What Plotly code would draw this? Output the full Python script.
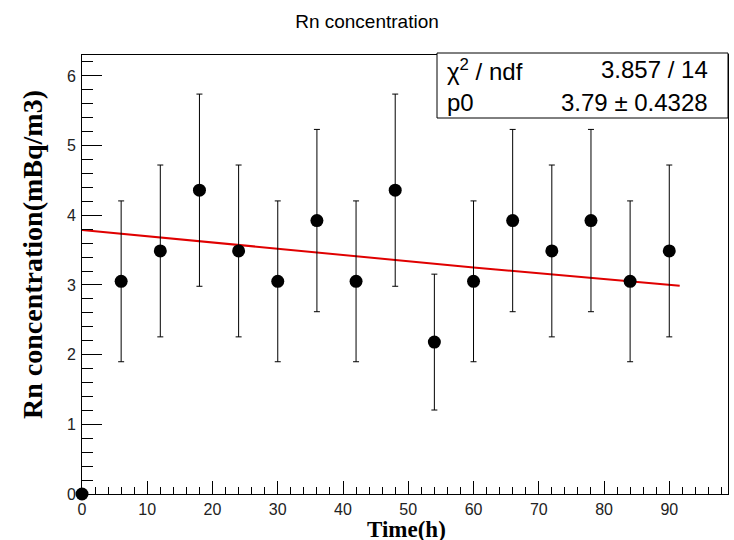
import plotly.graph_objects as go

# ---- data ----
time_h = [0, 6, 12, 18, 24, 30, 36, 42, 48, 54, 60, 66, 72, 78, 84, 90]
rn_conc = [0.0, 3.052, 3.488, 4.36, 3.488, 3.052, 3.924, 3.052, 4.36, 2.18,
           3.052, 3.924, 3.488, 3.924, 3.052, 3.488]
rn_err = [0.0, 1.154, 1.233, 1.379, 1.233, 1.154, 1.308, 1.154, 1.379, 0.975,
          1.154, 1.308, 1.233, 1.308, 1.154, 1.233]
fit_x = [0, 30, 60, 91.6]
fit_y = [3.79, 3.52, 3.25, 2.99]

title_text = "Rn concentration"
x_title = "Time(h)"
y_title = "Rn concentration(mBq/m3)"
stat_labels = ["χ<sup>2</sup> / ndf", "p0"]
stat_values = ["3.857 / 14", "3.79 \u00b1 0.4328"]

# ---- layout geometry (pixels) ----
W, H = 734, 540
L, R, T, B = 82, 728, 55, 494
pw, ph = R - L, B - T

def px(xp):
    return (xp - L) / pw

def py(yp):
    return (B - yp) / ph

fig = go.Figure()

fig.add_trace(go.Scatter(
    x=fit_x, y=fit_y, mode="lines",
    line=dict(color="#e00000", width=2),
    hoverinfo="skip", showlegend=False,
))

fig.add_trace(go.Scatter(
    x=time_h, y=rn_conc, mode="markers",
    marker=dict(color="black", size=13),
    error_y=dict(type="data", array=rn_err, visible=True,
                 color="black", thickness=1, width=3),
    cliponaxis=False, showlegend=False,
))

sans = "Liberation Sans, Arial, Helvetica, sans-serif"
serif = "Liberation Serif, Times New Roman, serif"

fig.update_layout(
    width=W, height=H,
    margin=dict(l=L, r=W - R, t=T, b=H - B),
    paper_bgcolor="white", plot_bgcolor="white",
    title=dict(text=title_text, x=367 / W, xanchor="center",
               y=1 - 21 / H, yanchor="middle",
               font=dict(family=sans, size=19, color="black")),
    xaxis=dict(
        range=[0, 99], showgrid=False, zeroline=False,
        showline=True, linecolor="black", linewidth=1, mirror=True,
        ticks="inside", ticklen=13, tickcolor="black", tickwidth=1,
        dtick=10, tick0=0,
        minor=dict(ticks="inside", ticklen=7, dtick=2, tick0=0,
                   tickcolor="black", tickwidth=1, showgrid=False),
        tickfont=dict(family=sans, size=16, color="#222"),
        ticklabelstandoff=1,
    ),
    yaxis=dict(
        range=[0, 6.3], showgrid=False, zeroline=False,
        showline=True, linecolor="black", linewidth=1, mirror=True,
        ticks="inside", ticklen=20, tickcolor="black", tickwidth=1,
        dtick=1, tick0=0,
        minor=dict(ticks="inside", ticklen=11, dtick=0.2, tick0=0,
                   tickcolor="black", tickwidth=1, showgrid=False),
        tickfont=dict(family=sans, size=16, color="#222"),
        ticklabelstandoff=2,
    ),
)

# axis titles
fig.add_annotation(text=x_title, xref="paper", yref="paper",
                   x=px(406), y=py(529), xanchor="center", yanchor="middle",
                   showarrow=False,
                   font=dict(family=serif, size=23, color="black", weight="bold"))
fig.add_annotation(text=y_title, xref="paper", yref="paper",
                   x=px(32), y=py(255), xanchor="center", yanchor="middle",
                   textangle=-90, showarrow=False,
                   font=dict(family=serif, size=28, color="black", weight="bold"))

# stats box
fig.add_shape(type="rect", xref="paper", yref="paper",
              x0=px(437), x1=px(728), y0=py(118), y1=py(53),
              line=dict(color="black", width=1), fillcolor="white", layer="above")
rows_y = [70, 102]
for lab, val, yy in zip(stat_labels, stat_values, rows_y):
    fig.add_annotation(text=lab, xref="paper", yref="paper",
                       x=px(445), y=py(yy), xanchor="left", yanchor="middle",
                       showarrow=False,
                       font=dict(family=sans, size=24, color="black"))
    fig.add_annotation(text=val, xref="paper", yref="paper",
                       x=px(710), y=py(yy), xanchor="right", yanchor="middle",
                       showarrow=False,
                       font=dict(family=sans, size=24, color="black"))

fig.write_html("out.html",
               config={"displayModeBar": False},
               post_script="document.body.style.margin='0px';document.body.style.padding='0px';")
